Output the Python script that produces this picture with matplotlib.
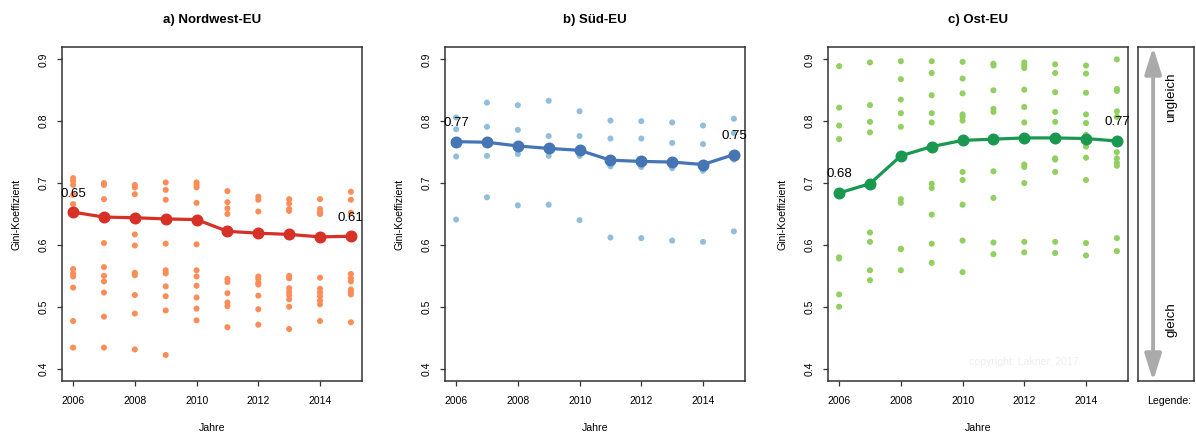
import matplotlib
matplotlib.use("Agg")
import matplotlib.pyplot as plt
from matplotlib.patches import FancyArrowPatch

plt.rcParams['font.family'] = ['Liberation Sans', 'DejaVu Sans']

years = [2006, 2007, 2008, 2009, 2010, 2011, 2012, 2013, 2014, 2015]
xticks = [2006, 2008, 2010, 2012, 2014]
yticks = [0.4, 0.5, 0.6, 0.7, 0.8, 0.9]

# a) Nordwest-EU: Länderwerte je Jahr und Mittelwert
nw_points = [
    [0.708, 0.703, 0.697, 0.681, 0.666, 0.561, 0.554, 0.549, 0.531, 0.477, 0.434],
    [0.700, 0.697, 0.674, 0.603, 0.564, 0.550, 0.541, 0.523, 0.484, 0.434],
    [0.697, 0.693, 0.682, 0.617, 0.599, 0.555, 0.551, 0.519, 0.489, 0.431],
    [0.701, 0.689, 0.673, 0.602, 0.559, 0.554, 0.533, 0.517, 0.494, 0.422],
    [0.701, 0.697, 0.693, 0.668, 0.601, 0.559, 0.549, 0.534, 0.515, 0.497, 0.478],
    [0.687, 0.669, 0.659, 0.650, 0.545, 0.540, 0.522, 0.507, 0.501, 0.467],
    [0.678, 0.673, 0.654, 0.549, 0.545, 0.539, 0.536, 0.518, 0.496, 0.471],
    [0.674, 0.667, 0.658, 0.655, 0.550, 0.546, 0.530, 0.524, 0.519, 0.512, 0.500, 0.464],
    [0.674, 0.658, 0.653, 0.650, 0.547, 0.529, 0.523, 0.517, 0.510, 0.504, 0.477],
    [0.686, 0.673, 0.652, 0.553, 0.546, 0.541, 0.528, 0.524, 0.520, 0.475],
]
nw_mean = [0.653, 0.645, 0.644, 0.642, 0.641, 0.622, 0.619, 0.617, 0.613, 0.614]

# b) Süd-EU
sued_points = [
    [0.806, 0.787, 0.764, 0.743, 0.641],
    [0.830, 0.791, 0.766, 0.744, 0.677],
    [0.826, 0.786, 0.747, 0.664],
    [0.833, 0.776, 0.744, 0.665],
    [0.816, 0.776, 0.744, 0.640],
    [0.801, 0.772, 0.727, 0.612],
    [0.800, 0.772, 0.726, 0.611],
    [0.798, 0.765, 0.724, 0.607],
    [0.793, 0.763, 0.720, 0.605],
    [0.804, 0.781, 0.738, 0.622],
]
sued_mean = [0.767, 0.766, 0.760, 0.756, 0.753, 0.737, 0.735, 0.734, 0.730, 0.746]

# c) Ost-EU
ost_points = [
    [0.889, 0.822, 0.793, 0.771, 0.580, 0.578, 0.520, 0.500],
    [0.895, 0.826, 0.799, 0.782, 0.620, 0.605, 0.559, 0.543],
    [0.897, 0.868, 0.835, 0.813, 0.791, 0.674, 0.668, 0.594, 0.593, 0.559],
    [0.897, 0.878, 0.842, 0.813, 0.798, 0.699, 0.692, 0.649, 0.602, 0.571],
    [0.896, 0.869, 0.845, 0.811, 0.807, 0.801, 0.718, 0.705, 0.665, 0.607, 0.556],
    [0.893, 0.890, 0.850, 0.820, 0.815, 0.719, 0.676, 0.604, 0.585],
    [0.895, 0.890, 0.886, 0.851, 0.823, 0.798, 0.730, 0.726, 0.700, 0.605, 0.588],
    [0.892, 0.878, 0.847, 0.815, 0.799, 0.740, 0.738, 0.718, 0.605, 0.587],
    [0.890, 0.877, 0.846, 0.811, 0.797, 0.778, 0.759, 0.741, 0.705, 0.603, 0.583],
    [0.900, 0.852, 0.849, 0.816, 0.807, 0.750, 0.740, 0.733, 0.728, 0.611, 0.590],
]
ost_mean = [0.684, 0.699, 0.744, 0.759, 0.769, 0.771, 0.773, 0.773, 0.772, 0.768]

panels = [
    ("a) Nordwest-EU", nw_points, nw_mean, "#FC8D59", "#D73027"),
    ("b) Süd-EU", sued_points, sued_mean, "#91BFDB", "#4575B4"),
    ("c) Ost-EU", ost_points, ost_mean, "#91CF60", "#1A9850"),
]

W, H = 1196, 434
fig = plt.figure(figsize=(W / 100, H / 100), dpi=100)
bottom = (H - 381) / H
height = 334 / H
lefts = [62, 445, 828]

ax = None
for left, (title, pts, mean, pcol, lcol) in zip(lefts, panels):
    ax = fig.add_axes([left / W, bottom, 300 / W, height])
    for yr, vals in zip(years, pts):
        ax.scatter([yr] * len(vals), vals, s=19, color=pcol, edgecolors='none', zorder=2)
    ax.plot(years, mean, color=lcol, lw=2.3, marker='o', ms=7.6, zorder=3)
    ax.text(years[0], mean[0] + 0.03, f"{mean[0]:.2f}", ha='center', va='center', fontsize=9.5, zorder=4)
    ax.text(years[-1], mean[-1] + 0.03, f"{mean[-1]:.2f}", ha='center', va='center', fontsize=9.5, zorder=4)

    ax.set_xlim(2005.64, 2015.36)
    ax.set_ylim(0.38, 0.92)
    ax.set_xticks(xticks)
    ax.set_yticks(yticks)
    ax.set_yticklabels([f"{v:.1f}" for v in yticks], rotation=90, va='center')
    ax.tick_params(axis='x', length=3.6, width=0.9, pad=7, labelsize=7.5, color='#333333')
    ax.tick_params(axis='y', length=3.6, width=0.9, pad=6, labelsize=7.5, color='#333333')
    for sp in ax.spines.values():
        sp.set_color('#333333')
        sp.set_linewidth(1.1)
    ax.set_xlabel("Jahre", fontsize=7.6, va='center')
    ax.xaxis.set_label_coords(0.5, (381 - 428) / 334)
    ax.set_ylabel("Gini-Koeffizient", fontsize=7.6, va='center')
    ax.yaxis.set_label_coords(-45 / 300, 0.5)
    ax.text(0.5, (381 - 20) / 334, title, transform=ax.transAxes, ha='center', va='center',
            fontsize=9.5, fontweight='bold')

ax.text(2012.0, 0.41, "copyright: Lakner, 2017", color='#EEEEEE', fontsize=7.6,
        ha='center', va='center', zorder=1)

# Legende
lax = fig.add_axes([1138 / W, bottom, 56 / W, height])
lax.set_xlim(0, 1)
lax.set_ylim(0, 1)
lax.set_xticks([])
lax.set_yticks([])
for sp in lax.spines.values():
    sp.set_color('#333333')
    sp.set_linewidth(1.1)
arrow = FancyArrowPatch((0.27, 0.0), (0.27, 1.0), transform=lax.transAxes,
                        arrowstyle='<|-|>,head_length=1.6,head_width=0.5',
                        mutation_scale=10, color='#AAAAAA', lw=2.8,
                        shrinkA=0, shrinkB=0, clip_on=False)
lax.add_patch(arrow)
lax.text(0.6, (381 - 97) / 334, "ungleich", rotation=90, ha='center', va='center', fontsize=9.5)
lax.text(0.6, (381 - 320) / 334, "gleich", rotation=90, ha='center', va='center', fontsize=9.5)
lax.text(0.55, (381 - 401) / 334, "Legende:", ha='center', va='center', fontsize=7.6,
         transform=lax.transAxes)

fig.savefig("out.png", dpi=100)
